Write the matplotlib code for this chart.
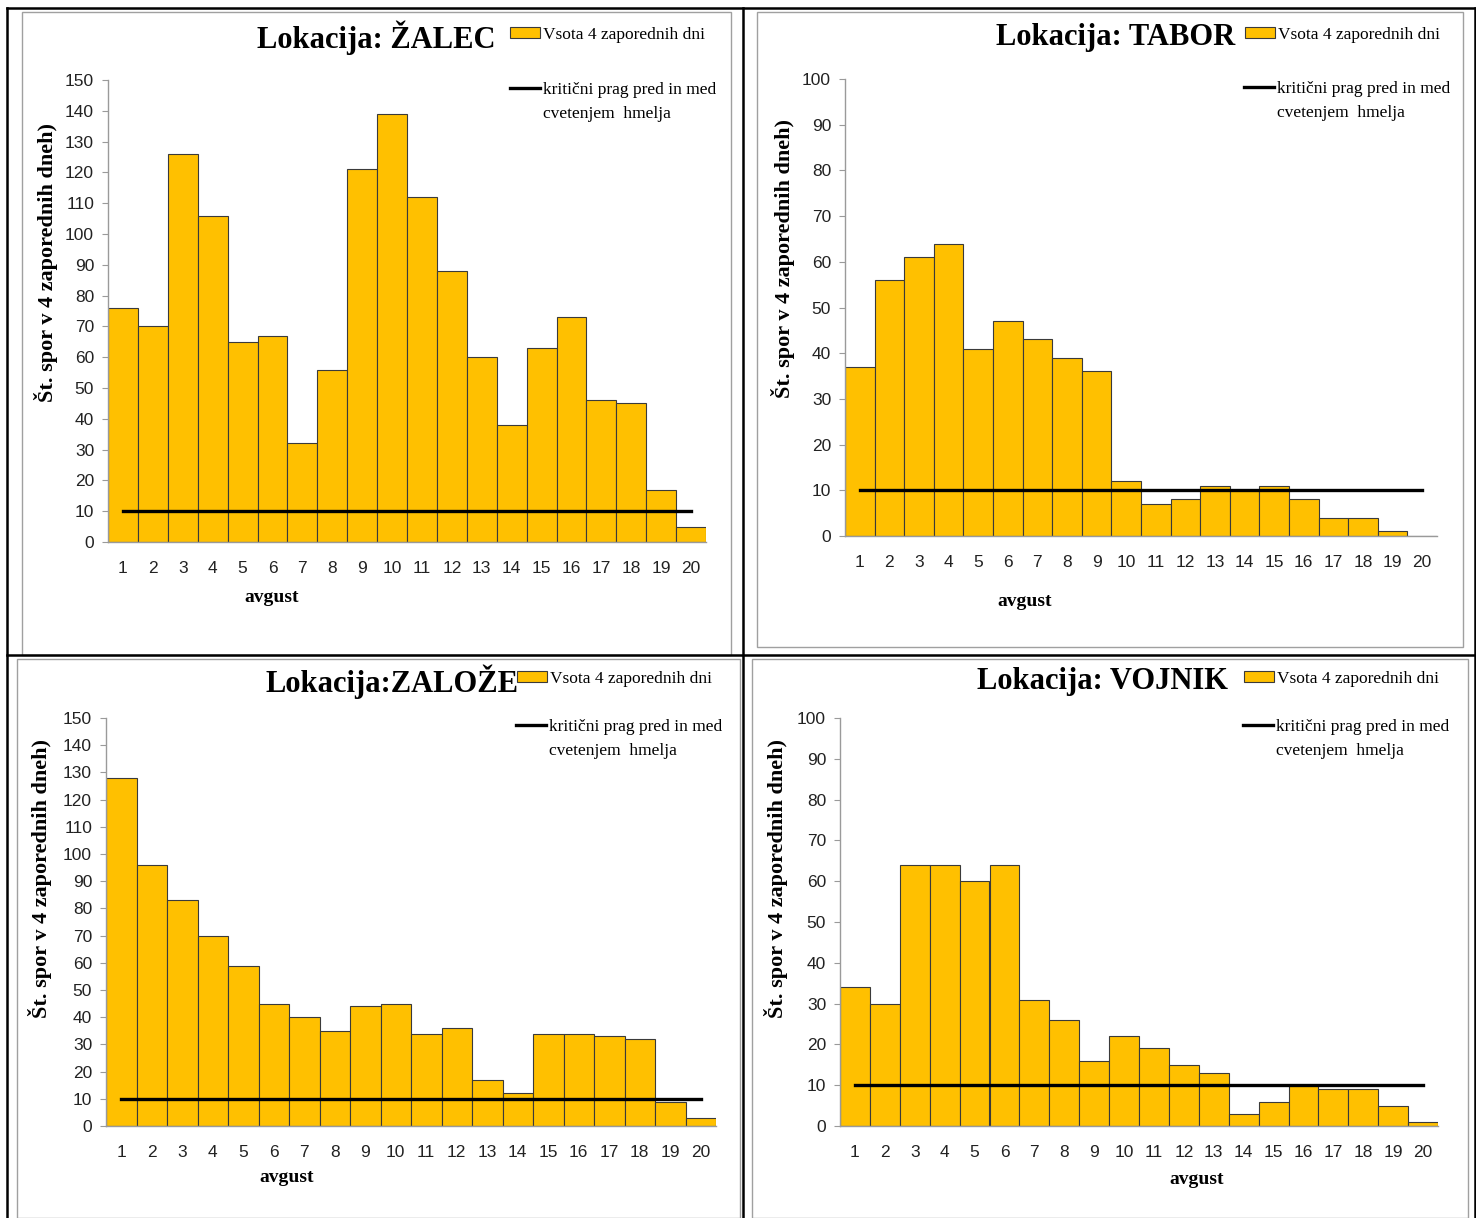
import matplotlib
matplotlib.use("Agg")
import matplotlib.pyplot as plt
from matplotlib.lines import Line2D
from matplotlib.patches import Rectangle

W, H = 1476, 1218

days = list(range(1, 21))
zalec = [76, 70, 126, 106, 65, 67, 32, 56, 121, 139, 112, 88, 60, 38, 63, 73, 46, 45, 17, 5]
tabor = [37, 56, 61, 64, 41, 47, 43, 39, 36, 12, 7, 8, 11, 10, 11, 8, 4, 4, 1, 0]
zaloze = [128, 96, 83, 70, 59, 45, 40, 35, 44, 45, 34, 36, 17, 12, 34, 34, 33, 32, 9, 3]
vojnik = [34, 30, 64, 64, 60, 64, 31, 26, 16, 22, 19, 15, 13, 3, 6, 10, 9, 9, 5, 1]
prag = [10] * 20

titles = ["Lokacija: ŽALEC", "Lokacija: TABOR", "Lokacija:ZALOŽE", "Lokacija: VOJNIK"]
series = [zalec, tabor, zaloze, vojnik]
ymax = [150, 100, 150, 100]

serif = ["Liberation Serif", "DejaVu Serif"]
narrow = ["Liberation Sans Narrow", "Liberation Sans", "DejaVu Sans"]

fig = plt.figure(figsize=(W / 100, H / 100), dpi=100)


def fx(x):
    return x / W


def fy(y):
    return 1 - y / H


# pixel layout of each panel: axes box, grey frame, title, legend, labels
panels = [
    dict(ax=(108, 80, 706, 542), frame=(22, 12, 731, 655), title=(495, 38),
         patch=(510, 35), line=(510, 90), ylab=(46, 262), xlab=(272, 597)),
    dict(ax=(845, 79, 1437, 536), frame=(757, 12, 1463, 647), title=(1235, 38),
         patch=(1245, 35), line=(1244, 89), ylab=(783, 258), xlab=(1025, 601)),
    dict(ax=(106, 718, 716, 1126), frame=(17, 659, 740, 1218), title=(518, 682),
         patch=(517, 679), line=(516, 727), ylab=(40, 878), xlab=(287, 1178)),
    dict(ax=(840, 718, 1438, 1126), frame=(752, 659, 1468, 1218), title=(1228, 682),
         patch=(1244, 679), line=(1243, 727), ylab=(776, 878), xlab=(1197, 1180)),
]

for i, p in enumerate(panels):
    # grey chart frame
    x0, y0, x1, y1 = p["frame"]
    fig.add_artist(Rectangle((fx(x0), fy(y1)), fx(x1 - x0), (y1 - y0) / H,
                             transform=fig.transFigure, fill=False,
                             edgecolor="#a0a0a0", linewidth=1.0))

    l, t, r, b = p["ax"]
    ax = fig.add_axes([fx(l), fy(b), fx(r - l), (b - t) / H])
    bars = ax.bar(days, series[i], width=1.0, color="#FFC000",
                  edgecolor="#3a3a3a", linewidth=0.8, zorder=2)
    ax.plot(days, prag, color="black", linewidth=2.4, zorder=3)

    ax.set_xlim(0.5, 20.5)
    ax.set_ylim(0, ymax[i])
    ax.set_yticks(range(0, ymax[i] + 1, 10))
    ax.set_xticks(days)
    for s in ["top", "right"]:
        ax.spines[s].set_visible(False)
    for s in ["left", "bottom"]:
        ax.spines[s].set_color("#9a9a9a")
        ax.spines[s].set_linewidth(1.0)
    ax.tick_params(axis="y", length=4, color="#9a9a9a", pad=6)
    ax.tick_params(axis="x", length=0, pad=14)
    for lab in ax.get_xticklabels() + ax.get_yticklabels():
        lab.set_family(narrow)
        lab.set_fontsize(12.5)
        lab.set_color("#222222")

    tx, ty = p["title"]
    fig.text(fx(tx), fy(ty), titles[i], ha="right", va="center",
             family=serif, fontweight="bold", fontsize=22)

    px, py = p["patch"]
    leg1 = ax.legend([bars], ["Vsota 4 zaporednih dni"], loc="center left",
                     bbox_to_anchor=(fx(px), fy(py)), bbox_transform=fig.transFigure,
                     frameon=False, borderpad=0, borderaxespad=0,
                     handlelength=1.7, handleheight=0.6, handletextpad=0.2,
                     prop=dict(family=serif, size=12.5))
    ax.add_artist(leg1)
    lx, ly = p["line"]
    handle = Line2D([], [], color="black", linewidth=2.4)
    ax.legend([handle], ["kritični prag pred in med"], loc="center left",
              bbox_to_anchor=(fx(lx), fy(ly)), bbox_transform=fig.transFigure,
              frameon=False, borderpad=0, borderaxespad=0, handlelength=1.7,
              handletextpad=0.2, prop=dict(family=serif, size=12.5))
    fig.text(fx(lx + 33), fy(ly + 24), "cvetenjem  hmelja", ha="left", va="center",
             family=serif, fontsize=12.5)

    yx, yy = p["ylab"]
    fig.text(fx(yx), fy(yy), "Št. spor v 4 zaporednih dneh)", rotation=90,
             ha="center", va="center", family=serif, fontweight="bold", fontsize=16)
    xx, xy = p["xlab"]
    fig.text(fx(xx), fy(xy), "avgust", ha="center", va="center",
             family=serif, fontweight="bold", fontsize=14)

# outer table lines
for x0, y0, x1, y1 in [(7, 8, 1476, 8), (7, 655, 1476, 655), (7, 8, 7, 1218),
                       (743, 8, 743, 1218), (1475, 8, 1475, 1218)]:
    fig.add_artist(Line2D([fx(x0), fx(x1)], [fy(y0), fy(y1)], color="black",
                          linewidth=1.8, transform=fig.transFigure))

fig.savefig("out.png", dpi=100, facecolor="white")
